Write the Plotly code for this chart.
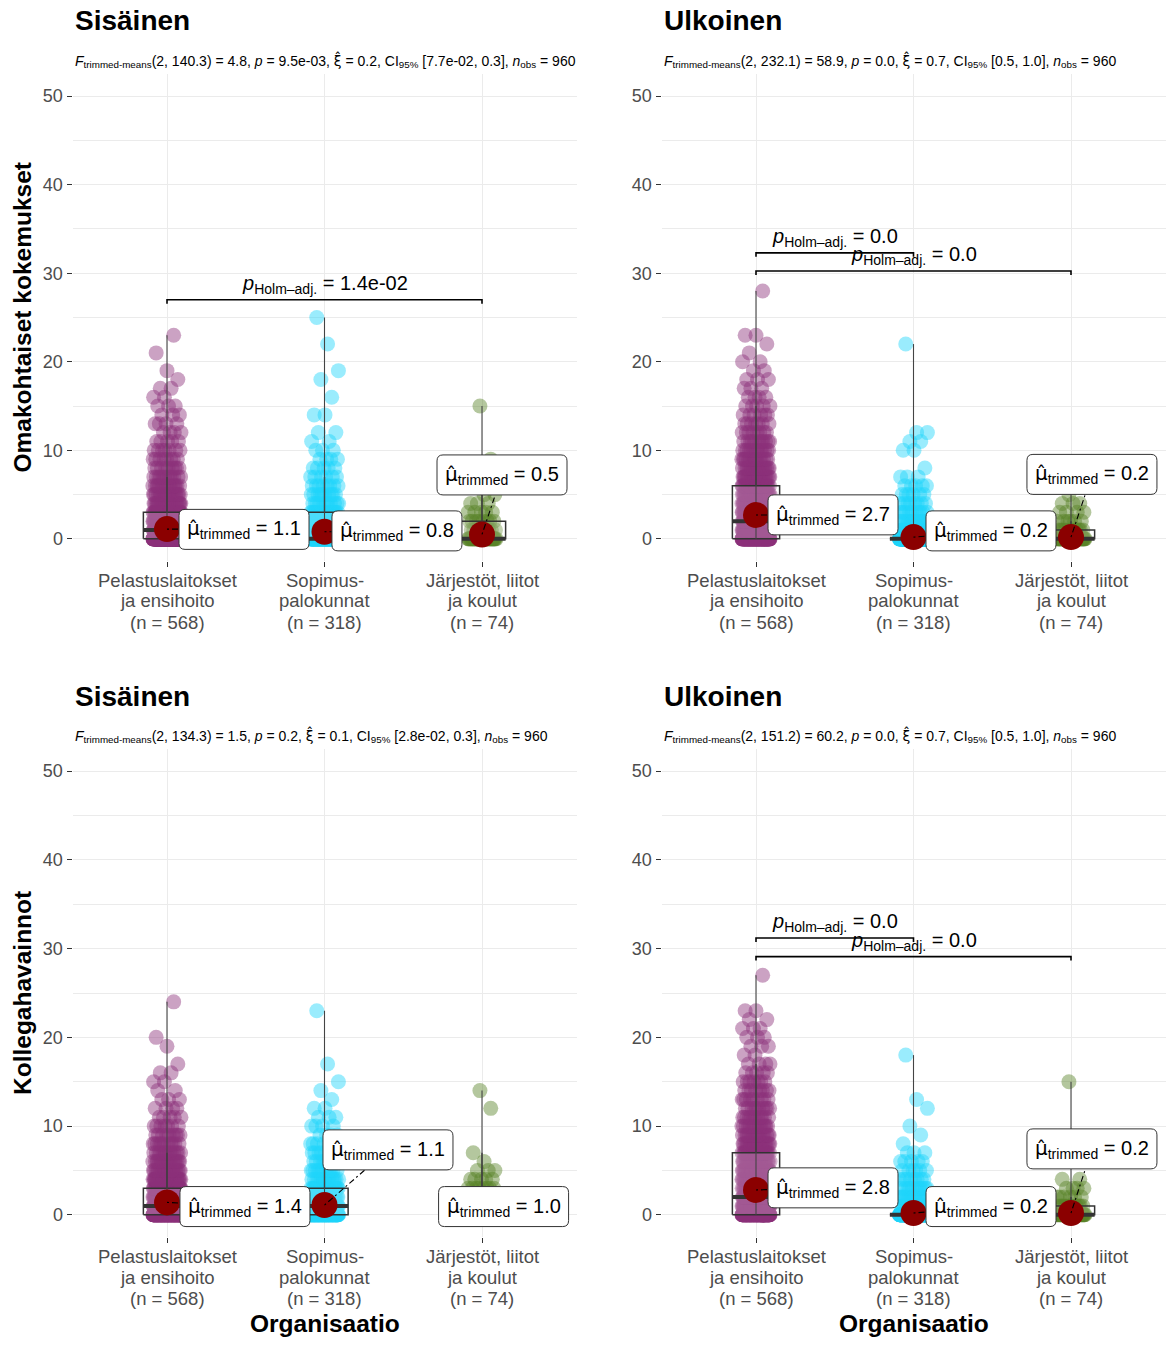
import numpy as np
import plotly.graph_objects as go

W, H = 1169, 1349
FONT = "Liberation Sans, Arial, Helvetica, sans-serif"
HAT_FONT = "DejaVu Sans"

# ---------------------------------------------------------------- data
tick_lines = [
    ["Pelastuslaitokset", "ja ensihoito", "(n = 568)"],
    ["Sopimus-", "palokunnat", "(n = 318)"],
    ["Järjestöt, liitot", "ja koulut", "(n = 74)"],
]
y_ticks = [0, 10, 20, 30, 40, 50]

# score -> number of respondents, per organisation type
# Omakohtaiset kokemukset, Sisäinen
oma_sis_pel = {0: 270, 1: 75, 2: 55, 3: 45, 4: 25, 5: 20, 6: 15, 7: 12, 8: 9, 9: 8, 10: 7,
               11: 5, 12: 4, 13: 4, 14: 3, 15: 3, 16: 2, 17: 2, 18: 1, 19: 1, 21: 1, 23: 1}
oma_sis_sop = {0: 165, 1: 40, 2: 30, 3: 25, 4: 11, 5: 10, 6: 8, 7: 6, 8: 5, 9: 4, 10: 3,
               11: 2, 12: 2, 14: 2, 16: 1, 18: 1, 19: 1, 22: 1, 25: 1}
oma_sis_jar = {0: 45, 1: 8, 2: 8, 3: 5, 4: 3, 5: 2, 6: 1, 9: 1, 15: 1}
# Omakohtaiset kokemukset, Ulkoinen
oma_ulk_pel = {0: 155, 1: 75, 2: 60, 3: 50, 4: 40, 5: 33, 6: 30, 7: 22, 8: 19, 9: 15, 10: 13,
               11: 11, 12: 8, 13: 7, 14: 6, 15: 5, 16: 4, 17: 3, 18: 3, 19: 2, 20: 2, 21: 1,
               22: 1, 23: 2, 28: 1}
oma_ulk_sop = {0: 240, 1: 23, 2: 15, 3: 10, 4: 8, 5: 6, 6: 5, 7: 3, 8: 1, 10: 2, 11: 2, 12: 2, 22: 1}
oma_ulk_jar = {0: 50, 1: 10, 2: 6, 3: 4, 4: 3, 5: 1}
# Kollegahavainnot, Sisäinen
kol_sis_pel = {0: 225, 1: 90, 2: 65, 3: 50, 4: 35, 5: 22, 6: 18, 7: 14, 8: 11, 9: 9, 10: 7,
               11: 5, 12: 4, 13: 3, 14: 2, 15: 2, 16: 2, 17: 1, 19: 1, 20: 1, 24: 1}
kol_sis_sop = {0: 135, 1: 50, 2: 35, 3: 30, 4: 15, 5: 11, 6: 10, 7: 8, 8: 6, 9: 4, 10: 4,
               11: 3, 12: 2, 13: 1, 14: 1, 15: 1, 17: 1, 23: 1}
kol_sis_jar = {0: 32, 1: 12, 2: 10, 3: 8, 4: 5, 5: 3, 6: 1, 7: 1, 12: 1, 14: 1}
# Kollegahavainnot, Ulkoinen
kol_ulk_pel = {0: 170, 1: 65, 2: 52, 3: 40, 4: 35, 5: 30, 6: 28, 7: 25, 8: 22, 9: 16, 10: 14,
               11: 12, 12: 10, 13: 9, 14: 8, 15: 7, 16: 5, 17: 4, 18: 2, 19: 3, 20: 3, 21: 3,
               22: 2, 23: 2, 27: 1}
kol_ulk_sop = {0: 240, 1: 23, 2: 16, 3: 11, 4: 8, 5: 6, 6: 5, 7: 3, 8: 1, 9: 1, 10: 1, 12: 1, 13: 1, 18: 1}
kol_ulk_jar = {0: 50, 1: 11, 2: 6, 3: 4, 4: 2, 15: 1}

# 20 % trimmed means
trim_oma_sis = [1.1, 0.8, 0.5]
trim_oma_ulk = [2.7, 0.2, 0.2]
trim_kol_sis = [1.4, 1.1, 1.0]
trim_kol_ulk = [2.8, 0.2, 0.2]

# Welch-type trimmed-means ANOVA: df2, F, p, xi, CI low, CI high
stats_oma_sis = ["140.3", "4.8", "9.5e-03", "0.2", "7.7e-02", "0.3"]
stats_oma_ulk = ["232.1", "58.9", "0.0", "0.7", "0.5", "1.0"]
stats_kol_sis = ["134.3", "1.5", "0.2", "0.1", "2.8e-02", "0.3"]
stats_kol_ulk = ["151.2", "60.2", "0.0", "0.7", "0.5", "1.0"]

# significant Holm-adjusted pairwise comparisons
pairs_oma_sis = [(1, 3, "1.4e-02")]
pairs_oma_ulk = [(1, 2, "0.0"), (1, 3, "0.0")]
pairs_kol_sis = []
pairs_kol_ulk = [(1, 2, "0.0"), (1, 3, "0.0")]

# ---------------------------------------------------------------- styling / layout
colors = ["rgb(139,48,121)", "rgb(30,212,250)", "rgb(88,130,40)"]
BOX = "#333333"
GRID = "#EBEBEB"
TICKTXT = "#4D4D4D"
XR = (0.4, 3.6)
YR = (-2.5, 52.5)

panels = [
    dict(title="Sisäinen", groups=[oma_sis_pel, oma_sis_sop, oma_sis_jar], trim=trim_oma_sis,
         stats=stats_oma_sis, pairs=pairs_oma_sis, xpx=(72.5, 576.5), ypx=(74, 561),
         bracket_y=[27.0], labels=[(1.489, 1.07), (2.46, 0.9), (3.127, 7.22)]),
    dict(title="Ulkoinen", groups=[oma_ulk_pel, oma_ulk_sop, oma_ulk_jar], trim=trim_oma_ulk,
         stats=stats_oma_ulk, pairs=pairs_oma_ulk, xpx=(661.5, 1165.5), ypx=(74, 561),
         bracket_y=[32.3, 30.25], labels=[(1.489, 2.71), (2.492, 0.9), (3.133, 7.28)]),
    dict(title="Sisäinen", groups=[kol_sis_pel, kol_sis_sop, kol_sis_jar], trim=trim_kol_sis,
         stats=stats_kol_sis, pairs=pairs_kol_sis, xpx=(72.5, 576.5), ypx=(749, 1237),
         bracket_y=[], labels=[(1.495, 0.93), (2.403, 7.32), (3.137, 0.93)]),
    dict(title="Ulkoinen", groups=[kol_ulk_pel, kol_ulk_sop, kol_ulk_jar], trim=trim_kol_ulk,
         stats=stats_kol_ulk, pairs=pairs_kol_ulk, xpx=(661.5, 1165.5), ypx=(749, 1237),
         bracket_y=[31.2, 29.1], labels=[(1.489, 3.04), (2.492, 0.93), (3.133, 7.43)]),
]

LBL_HW, LBL_HH, LBL_R = 65, 20, 6


def px(x):
    return x / W


def py(y):
    return 1 - y / H


def hat(ch):
    # letter with a circumflex accent, set in a font with proper mark placement
    return f'<span style="font-family:{HAT_FONT}">{ch}\u0302</span>'


def rounded_box(hw, hh, r):
    return (f"M {-hw + r},{-hh} L {hw - r},{-hh} Q {hw},{-hh} {hw},{-hh + r} "
            f"L {hw},{hh - r} Q {hw},{hh} {hw - r},{hh} L {-hw + r},{hh} "
            f"Q {-hw},{hh} {-hw},{hh - r} L {-hw},{-hh + r} Q {-hw},{-hh} {-hw + r},{-hh} Z")


fig = go.Figure()
annotations = []
shapes = []
layout_axes = {}

for i, pn in enumerate(panels):
    s = "" if i == 0 else str(i + 1)
    xa, ya = "x" + s, "y" + s
    x0, x1 = pn["xpx"]
    y0, y1 = pn["ypx"]
    sx = (x1 - x0) / (XR[1] - XR[0])
    sy = (y1 - y0) / (YR[1] - YR[0])

    layout_axes["xaxis" + s] = dict(
        domain=[px(x0), px(x1)], range=list(XR), anchor=ya, tickvals=[1, 2, 3],
        showticklabels=False, ticks="outside", ticklen=5, tickwidth=1.2, tickcolor=BOX,
        showgrid=True, gridcolor=GRID, gridwidth=1.3, zeroline=False, showline=False)
    layout_axes["yaxis" + s] = dict(
        domain=[py(y1), py(y0)], range=list(YR), anchor=xa, tickvals=y_ticks,
        ticks="outside", ticklen=5, tickwidth=1.2, tickcolor=BOX,
        tickfont=dict(size=18, color=TICKTXT, family=FONT),
        showgrid=True, gridcolor=GRID, gridwidth=1.3, zeroline=False, showline=False,
        minor=dict(tickvals=[5, 15, 25, 35, 45], showgrid=True, gridcolor=GRID, gridwidth=0.7))

    group_vals = []
    # jittered raw observations
    for g, (counts, col) in enumerate(zip(pn["groups"], colors), start=1):
        vals = np.repeat(np.array(list(counts.keys()), dtype=float), list(counts.values()))
        group_vals.append(vals)
        k = np.arange(len(vals))
        jit = ((k * 0.6180339887 + 0.31) % 1.0 - 0.5) * 2 * 0.09
        fig.add_trace(go.Scatter(
            x=g + jit, y=vals, mode="markers", xaxis=xa, yaxis=ya, hoverinfo="skip",
            marker=dict(size=15, color=col, opacity=0.45, line=dict(width=0))))

    # box plots
    bw = 0.15
    for g, vals in enumerate(group_vals, start=1):
        q1, med, q3 = np.percentile(vals, [25, 50, 75])
        iqr = q3 - q1
        upper = vals[vals <= q3 + 1.5 * iqr].max()
        lower = vals[vals >= q1 - 1.5 * iqr].min()
        fig.add_trace(go.Scatter(
            x=[g, g, None, g, g], y=[q3, upper, None, q1, lower], mode="lines",
            xaxis=xa, yaxis=ya, hoverinfo="skip", line=dict(color=BOX, width=1.3)))
        fig.add_trace(go.Scatter(
            x=[g - bw, g + bw, g + bw, g - bw, g - bw], y=[q1, q1, q3, q3, q1],
            mode="lines", fill="toself", fillcolor="rgba(255,255,255,0.2)",
            xaxis=xa, yaxis=ya, hoverinfo="skip", line=dict(color=BOX, width=1.5)))
        fig.add_trace(go.Scatter(
            x=[g - bw, g + bw], y=[med, med], mode="lines", xaxis=xa, yaxis=ya,
            hoverinfo="skip", line=dict(color=BOX, width=4)))

    # zero-width violins: range of each group
    for g, vals in enumerate(group_vals, start=1):
        fig.add_trace(go.Scatter(
            x=[g, g], y=[vals.min(), vals.max()], mode="lines", xaxis=xa, yaxis=ya,
            hoverinfo="skip", line=dict(color="#444444", width=1.1)))

    # trimmed means
    for g, tm in enumerate(pn["trim"], start=1):
        fig.add_trace(go.Scatter(
            x=[g], y=[tm], mode="markers", xaxis=xa, yaxis=ya, hoverinfo="skip",
            marker=dict(size=26, color="#8B0000", line=dict(width=0))))

    # labels with connectors
    for g, (tm, (lx, ly)) in enumerate(zip(pn["trim"], pn["labels"]), start=1):
        dx = (lx - g) * sx
        dy = (ly - tm) * sy
        sc = max(abs(dx) / LBL_HW, abs(dy) / LBL_HH)
        if sc > 1:
            ex = lx - (dx / sc) / sx
            ey = ly - (dy / sc) / sy
            fig.add_trace(go.Scatter(
                x=[g, ex], y=[tm, ey], mode="lines", xaxis=xa, yaxis=ya, hoverinfo="skip",
                line=dict(color="black", width=1.1, dash="2px,3px,6px,3px")))
        shapes.append(dict(
            type="path", xref=xa, yref=ya, xsizemode="pixel", ysizemode="pixel",
            xanchor=lx, yanchor=ly, path=rounded_box(LBL_HW, LBL_HH, LBL_R),
            fillcolor="white", line=dict(color="#333333", width=1), layer="above"))
        annotations.append(dict(
            xref=xa, yref=ya, x=lx, y=ly, showarrow=False, xanchor="center", yanchor="middle",
            text=f"{hat('μ')}<sub>trimmed</sub> = {tm:.1f}",
            font=dict(size=20, color="black", family=FONT)))

    # pairwise comparison brackets
    for (a, b, ptxt), yb in zip(pn["pairs"], pn["bracket_y"]):
        tip = 0.45
        fig.add_trace(go.Scatter(
            x=[a, a, b, b], y=[yb - tip, yb, yb, yb - tip], mode="lines", xaxis=xa, yaxis=ya,
            hoverinfo="skip", line=dict(color="black", width=1.6)))
        annotations.append(dict(
            xref=xa, yref=ya, x=(a + b) / 2, y=yb, showarrow=False, xanchor="center",
            yanchor="bottom", yshift=1,
            text=f"<i>p</i><sub>Holm–adj.</sub> = {ptxt}",
            font=dict(size=20, color="black", family=FONT)))

    # category labels under the axis
    for g, lines in enumerate(tick_lines, start=1):
        for j, line in enumerate(lines):
            annotations.append(dict(
                xref=xa, yref="paper", x=g, y=py(y1 + 19 + 21 * j), showarrow=False,
                xanchor="center", yanchor="middle", text=line,
                font=dict(size=18.5, color=TICKTXT, family=FONT)))

    # panel title and subtitle
    annotations.append(dict(
        xref="paper", yref="paper", x=px(x0 + 0.5), y=py(y0 - 53), showarrow=False,
        xanchor="left", yanchor="middle", text=f"<b>{pn['title']}</b>",
        font=dict(size=28, color="black", family=FONT)))
    df2, fval, pval, xi, lo, hi = pn["stats"]
    annotations.append(dict(
        xref="paper", yref="paper", x=px(x0 + 0.5), y=py(y0 - 14), showarrow=False,
        xanchor="left", yanchor="middle",
        text=(f"<i>F</i><sub>trimmed-means</sub>(2, {df2}) = {fval}, <i>p</i> = {pval}, "
              f"{hat('ξ')} = {xi}, CI<sub>95%</sub> [{lo}, {hi}], <i>n</i><sub>obs</sub> = 960"),
        font=dict(size=14, color="black", family=FONT)))

# axis titles
annotations.append(dict(xref="paper", yref="paper", x=px(22), y=py(317.5), showarrow=False,
                        textangle=-90, xanchor="center", yanchor="middle",
                        text="<b>Omakohtaiset kokemukset</b>",
                        font=dict(size=24.5, color="black", family=FONT)))
annotations.append(dict(xref="paper", yref="paper", x=px(22), y=py(993), showarrow=False,
                        textangle=-90, xanchor="center", yanchor="middle",
                        text="<b>Kollegahavainnot</b>",
                        font=dict(size=24.5, color="black", family=FONT)))
for xc in (324.5, 913.5):
    annotations.append(dict(xref="paper", yref="paper", x=px(xc), y=py(1323), showarrow=False,
                            xanchor="center", yanchor="middle", text="<b>Organisaatio</b>",
                            font=dict(size=24.5, color="black", family=FONT)))

fig.update_layout(
    width=W, height=H, margin=dict(l=0, r=0, t=0, b=0),
    paper_bgcolor="white", plot_bgcolor="white", showlegend=False,
    font=dict(family=FONT), annotations=annotations, shapes=shapes, **layout_axes)

fig.write_html("out.html")
